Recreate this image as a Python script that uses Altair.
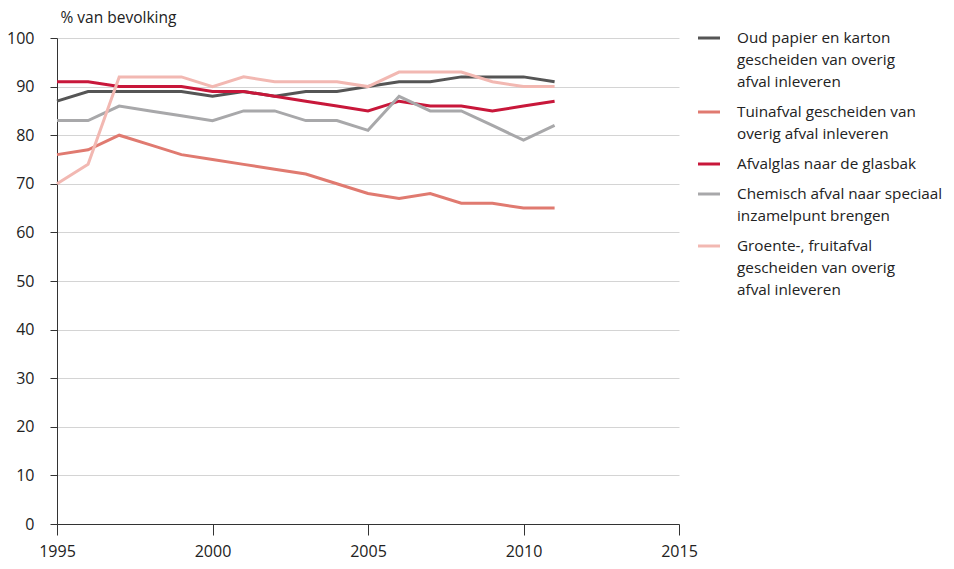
import altair as alt
import pandas as pd

years = list(range(1995, 2012))
series_names = [
    "Oud papier en karton|gescheiden van overig|afval inleveren",
    "Tuinafval gescheiden van|overig afval inleveren",
    "Afvalglas naar de glasbak",
    "Chemisch afval naar speciaal|inzamelpunt brengen",
    "Groente-, fruitafval|gescheiden van overig|afval inleveren",
]
oud_papier = [87, 89, 89, 89, 89, 88, 89, 88, 89, 89, 90, 91, 91, 92, 92, 92, 91]
tuinafval = [76, 77, 80, 78, 76, 75, 74, 73, 72, 70, 68, 67, 68, 66, 66, 65, 65]
afvalglas = [91, 91, 90, 90, 90, 89, 89, 88, 87, 86, 85, 87, 86, 86, 85, 86, 87]
chemisch = [83, 83, 86, 85, 84, 83, 85, 85, 83, 83, 81, 88, 85, 85, 82, 79, 82]
groente = [70, 74, 92, 92, 92, 90, 92, 91, 91, 91, 90, 93, 93, 93, 91, 90, 90]
colors = ["#555555", "#e07a70", "#c8173a", "#a8a8aa", "#f2b8b2"]
y_ticks = list(range(0, 101, 10))
x_ticks = [1995, 2000, 2005, 2010, 2015]

W, H = 622, 486
FONT = "Open Sans"
TEXT_COLOR = "#222222"

all_vals = [oud_papier, tuinafval, afvalglas, chemisch, groente]
rows = []
for name, vals in zip(series_names, all_vals):
    for yr, v in zip(years, vals):
        rows.append({"jaar": yr, "waarde": v, "reeks": name})
df = pd.DataFrame(rows)

# legend layout (pixels relative to the plot area's top-left)
LINE_H, GAP = 22, 8
sym_rows, txt_rows = [], []
pos = 0
for name in series_names:
    lines = name.split("|")
    sym_rows.append({"reeks": name, "ly": pos, "lx0": 0, "lx1": 1})
    for j, ln in enumerate(lines):
        txt_rows.append({"tekst": ln, "ly": pos + j * LINE_H, "lx0": 0})
    pos += len(lines) * LINE_H + GAP
sym_df = pd.DataFrame(sym_rows)
txt_df = pd.DataFrame(txt_rows)

color_scale = alt.Scale(domain=series_names, range=colors)

lines_chart = alt.Chart(df).mark_line(strokeWidth=3).encode(
    x=alt.X("jaar:Q", scale=alt.Scale(domain=[1995, 2015], nice=False, zero=False),
            axis=alt.Axis(values=x_ticks, format="d", grid=False, title=None,
                          tickSize=11, tickColor="#333333", domainColor="#333333",
                          labelFlush=False,
                          labelPadding=8, labelFontSize=16, labelColor=TEXT_COLOR,
                          labelFont=FONT)),
    y=alt.Y("waarde:Q", scale=alt.Scale(domain=[0, 100], nice=False),
            axis=alt.Axis(values=y_ticks, grid=True, gridColor="#d4d4d4",
                          tickSize=7, tickColor="#333333", domainColor="#333333",
                          labelPadding=16, labelFontSize=16, labelColor=TEXT_COLOR,
                          labelFont=FONT,
                          title="% van bevolking", titleAngle=0, titleAlign="left",
                          titleBaseline="alphabetic", titleX=3, titleY=-16,
                          titleFontSize=15.5, titleFontWeight="normal",
                          titleFont=FONT, titleColor=TEXT_COLOR)),
    color=alt.Color("reeks:N", scale=color_scale, legend=None),
)

leg_x_scale = alt.Scale(domain=[0, 1], range=[641, 663])
leg_y_scale = alt.Scale(domain=[0, H], range=[0, H])

legend_symbols = alt.Chart(sym_df).mark_rule(strokeWidth=3).encode(
    x=alt.X("lx0:Q", scale=leg_x_scale, axis=None),
    x2="lx1:Q",
    y=alt.Y("ly:Q", scale=leg_y_scale, axis=None),
    color=alt.Color("reeks:N", scale=color_scale, legend=None),
)

legend_text = alt.Chart(txt_df).mark_text(
    align="left", baseline="middle", fontSize=15.3, font=FONT, color=TEXT_COLOR, dx=39
).encode(
    x=alt.X("lx0:Q", scale=leg_x_scale, axis=None),
    y=alt.Y("ly:Q", scale=leg_y_scale, axis=None),
    text="tekst:N",
)

legend_layer = alt.layer(legend_symbols, legend_text)

chart = alt.layer(lines_chart, legend_layer).resolve_scale(
    x="independent", y="independent"
).properties(
    width=W, height=H,
    padding={"left": 49, "top": 30, "right": 267, "bottom": 40},
    autosize=alt.AutoSizeParams(type="none"),
).configure_view(stroke=None)

chart.save("out.html", embed_options={"renderer": "svg", "actions": False})
